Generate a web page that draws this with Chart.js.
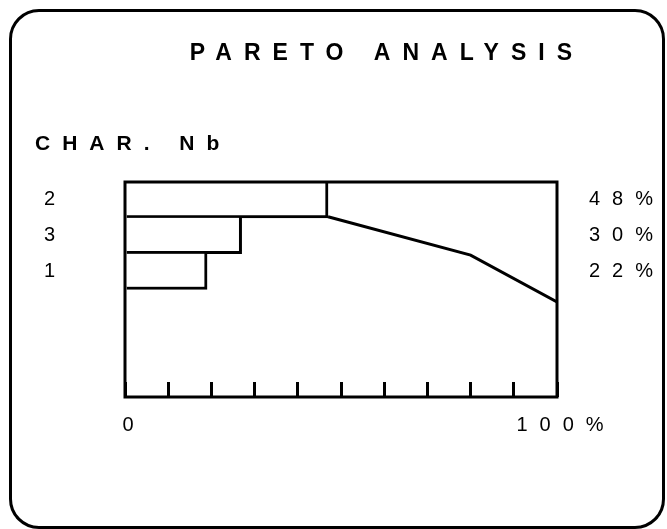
<!DOCTYPE html>
<html>
<head>
<meta charset="utf-8">
<script src="https://cdn.jsdelivr.net/npm/chart.js@4"></script>
<style>
  html, body { margin: 0; padding: 0; background: #fff; }
  #wrap { position: relative; width: 667px; height: 529px; overflow: hidden; }
  #box {
    position: absolute; left: 9px; top: 9px; width: 650px; height: 514px;
    border: 3px solid #000; border-radius: 30px; pointer-events: none;
  }
</style>
</head>
<body>
<div id="wrap">
  <canvas id="pareto" width="667" height="529"></canvas>
  <div id="box"></div>
</div>
<script>
// characteristic numbers, ranked
const categories = ['2', '3', '1', '', '', ''];
// bar lengths as drawn (% of total)
const shares = [47, 27, 19];
// labels printed on the right
const shareLabels = ['48%', '30%', '22%'];
// cumulative curve, x in %, y in rows from the top
const curveX = [47, 80, 100];
const curveY = [0.97, 2.04, 3.35];
// bottom axis labels
const xTickLabels = { 0: '0', 100: '100%' };

const ink = '#000';
const font = 'Liberation Sans, Arial, sans-serif';

// wide letter spacing like the original print
const spacing = {
  id: 'spacing',
  beforeLayout(chart) { chart.ctx.letterSpacing = '12px'; },
  beforeDraw(chart) { chart.ctx.letterSpacing = '12px'; }
};

// closed frame round the plot
const frame = {
  id: 'frame',
  afterDatasetsDraw(chart) {
    const { ctx, chartArea: a } = chart;
    ctx.save();
    ctx.strokeStyle = ink;
    ctx.lineWidth = 3;
    ctx.strokeRect(a.left, a.top, a.right - a.left, a.bottom - a.top);
    ctx.restore();
  }
};

new Chart(document.getElementById('pareto'), {
  type: 'bar',
  data: {
    labels: categories,
    datasets: [{
      type: 'bar',
      indexAxis: 'y',
      xAxisID: 'x',
      yAxisID: 'y',
      data: shares,
      grouped: false,
      backgroundColor: '#fff',
      borderColor: ink,
      borderWidth: { top: 0, left: 0, right: 3, bottom: 3 },
      borderSkipped: false,
      barPercentage: 1,
      categoryPercentage: 1
    }, {
      type: 'line',
      indexAxis: 'x',
      xAxisID: 'x',
      yAxisID: 'yR',
      data: curveX.map((v, i) => ({ x: v, y: curveY[i] })),
      borderColor: ink,
      borderWidth: 3,
      pointRadius: 0,
      tension: 0,
      fill: false
    }]
  },
  options: {
    indexAxis: 'y',
    responsive: false,
    animation: false,
    events: [],
    layout: { padding: { left: 35, right: 83, top: 0, bottom: 0 } },
    plugins: {
      legend: { display: false },
      tooltip: { enabled: false },
      title: {
        display: true,
        text: 'PARETO ANALYSIS',
        align: 'end',
        color: ink,
        font: { family: font, size: 23, weight: 'bold' },
        padding: { top: 40, bottom: 0 }
      },
      subtitle: {
        display: true,
        text: 'CHAR. Nb',
        align: 'start',
        color: ink,
        font: { family: font, size: 21, weight: 'bold' },
        padding: { top: 63.8, bottom: 25.4 }
      }
    },
    scales: {
      x: {
        type: 'linear',
        position: 'bottom',
        min: 0,
        max: 100,
        border: { display: false },
        grid: {
          drawOnChartArea: false,
          drawTicks: true,
          tickLength: -15,
          color: ink,
          lineWidth: 3
        },
        ticks: {
          stepSize: 10,
          autoSkip: false,
          maxRotation: 0,
          padding: 31,
          labelOffset: 9,
          color: ink,
          font: { family: font, size: 20 },
          callback: v => xTickLabels[v] || ''
        },
        afterFit: s => { s.height = 132; }
      },
      y: {
        type: 'category',
        position: 'left',
        offset: true,
        border: { display: false },
        grid: { display: false },
        ticks: {
          padding: 50,
          color: ink,
          font: { family: font, size: 20 }
        },
        afterFit: s => { s.width = 90; }
      },
      yR: {
        type: 'linear',
        axis: 'y',
        position: 'right',
        display: true,
        min: 0,
        max: categories.length,
        reverse: true,
        offset: false,
        border: { display: false },
        grid: { display: false, drawTicks: false },
        ticks: {
          stepSize: 0.5,
          autoSkip: false,
          mirror: true,
          crossAlign: 'near',
          padding: 108,
          color: ink,
          font: { family: font, size: 20 },
          callback: v => (Math.round(v * 2) % 2 === 1 ? shareLabels[Math.floor(v)] || '' : '')
        },
        afterFit: s => { s.width = 27; }
      }
    }
  },
  plugins: [spacing, frame]
});
</script>
</body>
</html>
